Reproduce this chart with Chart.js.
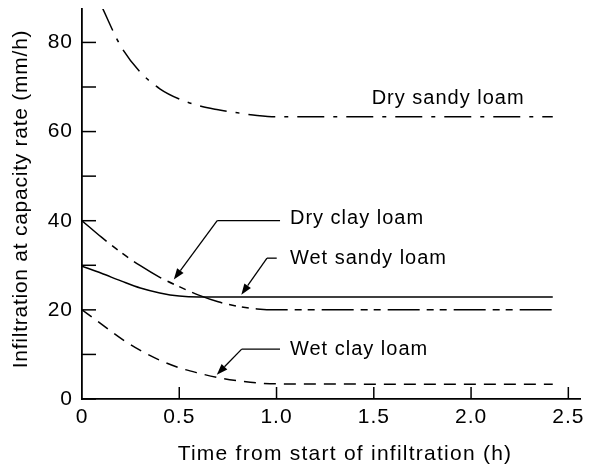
<!DOCTYPE html>
<html>
<head>
<meta charset="UTF-8">
<title>Infiltration capacity</title>
<script src="https://cdn.jsdelivr.net/npm/chart.js"></script>
<style>
  html, body { margin: 0; padding: 0; background: #fff; }
  #wrap { width: 589px; height: 464px; }
</style>
</head>
<body>
<div id="wrap"><canvas id="chart"></canvas></div>
<script>
// values (time in h, rate in mm/h)
const DRY_SANDY_TIME = [0.1, 0.2, 0.3, 0.4, 0.5, 0.6, 0.7, 0.8, 0.9, 1.0, 2.42];
const DRY_SANDY = [88.2, 79.1, 73.3, 69.6, 67.3, 65.8, 64.9, 64.2, 63.6, 63.3, 63.3];

const TIME = [0, 0.1, 0.2, 0.3, 0.4, 0.5, 0.6, 0.7, 0.8, 0.9, 1.0, 2.42];
const DRY_CLAY = [40, 36.3, 32.9, 29.9, 27.3, 25.2, 23.3, 21.8, 20.8, 20.2, 20.0, 20.0];
const WET_SANDY = [29.8, 28.2, 26.5, 24.9, 23.8, 23.1, 22.9, 22.9, 22.9, 22.9, 22.9, 22.9];
const WET_CLAY = [20, 16.8, 13.6, 10.9, 8.7, 7.0, 5.8, 4.8, 4.1, 3.6, 3.4, 3.3];

const X_TICKS = [0, 0.5, 1.0, 1.5, 2.0, 2.5];
const X_TICK_LABELS = ['0', '0.5', '1.0', '1.5', '2.0', '2.5'];
const Y_TICKS = [0, 10, 20, 30, 40, 50, 60, 70, 80];
const Y_TICK_LABELS = ['0', '', '20', '', '40', '', '60', '', '80'];

const X_TITLE = 'Time from start of infiltration (h)';
const Y_TITLE = 'Infiltration at capacity rate (mm/h)';

const FONT = "'Liberation Sans', Arial, Helvetica, sans-serif";

// callouts, placed in data units
const NOTES = [
  { text: 'Dry sandy loam', at: [1.489, 67.5] },
  { text: 'Dry clay loam', at: [1.069, 40.5], leader: [[1.018, 40.0], [0.695, 40.0], [0.472, 26.8]] },
  { text: 'Wet sandy loam', at: [1.069, 31.6], leader: [[1.001, 31.6], [0.951, 31.6], [0.819, 23.4]] },
  { text: 'Wet clay loam', at: [1.069, 11.2], leader: [[1.018, 11.2], [0.821, 11.2], [0.693, 5.45]] }
];

const pts = (xs, ys) => xs.map((t, i) => ({ x: t, y: ys[i] }));

function series(label, data, dash) {
  return {
    label,
    data,
    borderColor: '#000',
    borderWidth: 1.5,
    borderDash: dash,
    pointRadius: 0,
    fill: false,
    cubicInterpolationMode: 'monotone'
  };
}

function arrow(ctx, x0, y0, x1, y1) {
  const ang = Math.atan2(y1 - y0, x1 - x0);
  const len = 11, half = 4;
  const bx = x1 - len * Math.cos(ang), by = y1 - len * Math.sin(ang);
  ctx.beginPath();
  ctx.moveTo(x0, y0);
  ctx.lineTo(bx, by);
  ctx.stroke();
  ctx.beginPath();
  ctx.moveTo(x1, y1);
  ctx.lineTo(bx + half * Math.sin(ang), by - half * Math.cos(ang));
  ctx.lineTo(bx - half * Math.sin(ang), by + half * Math.cos(ang));
  ctx.closePath();
  ctx.fill();
}

const annotate = {
  id: 'annotate',
  beforeDraw(chart) {
    chart.ctx.letterSpacing = '1px';
  },
  afterDraw(chart) {
    const { ctx, chartArea: area, scales: { x, y } } = chart;
    ctx.save();
    ctx.strokeStyle = '#000';
    ctx.fillStyle = '#000';
    ctx.lineWidth = 1.5;

    // inward tick marks
    Y_TICKS.forEach(v => {
      const py = y.getPixelForValue(v);
      ctx.beginPath();
      ctx.moveTo(area.left, py);
      ctx.lineTo(area.left + 14, py);
      ctx.stroke();
    });
    X_TICKS.forEach(v => {
      if (v === 0) return;
      const px = x.getPixelForValue(v);
      ctx.beginPath();
      ctx.moveTo(px, area.bottom);
      ctx.lineTo(px, area.bottom - 12);
      ctx.stroke();
    });

    // callouts
    ctx.font = '20px ' + FONT;
    ctx.textBaseline = 'middle';
    ctx.textAlign = 'left';
    ctx.letterSpacing = '1px';
    ctx.lineWidth = 1.3;
    NOTES.forEach(n => {
      ctx.fillText(n.text, x.getPixelForValue(n.at[0]), y.getPixelForValue(n.at[1]));
      if (!n.leader) return;
      const p = n.leader.map(([t, v]) => [x.getPixelForValue(t), y.getPixelForValue(v)]);
      ctx.beginPath();
      ctx.moveTo(p[0][0], p[0][1]);
      ctx.lineTo(p[1][0], p[1][1]);
      ctx.stroke();
      arrow(ctx, p[1][0], p[1][1], p[2][0], p[2][1]);
    });

    // axis titles
    ctx.font = '21px ' + FONT;
    ctx.textAlign = 'center';
    ctx.letterSpacing = '1.25px';
    ctx.fillText(X_TITLE, 345, 454);
    ctx.save();
    ctx.translate(21, 199);
    ctx.rotate(-Math.PI / 2);
    ctx.letterSpacing = '0.75px';
    ctx.fillText(Y_TITLE, 0, 0);
    ctx.restore();

    ctx.restore();
  }
};

Chart.defaults.font.family = FONT;
Chart.defaults.color = '#000';

new Chart(document.getElementById('chart'), {
  type: 'line',
  data: {
    datasets: [
      series('Dry sandy loam', pts(DRY_SANDY_TIME, DRY_SANDY), [27, 9, 4, 9]),
      series('Dry clay loam', pts(TIME, DRY_CLAY), [32, 7, 7, 6, 7, 7]),
      series('Wet sandy loam', pts(TIME, WET_SANDY), []),
      series('Wet clay loam', pts(TIME, WET_CLAY), [12, 8])
    ]
  },
  options: {
    responsive: true,
    maintainAspectRatio: false,
    animation: false,
    layout: { padding: { top: 9, right: 9, left: 0, bottom: 0 } },
    plugins: {
      legend: { display: false },
      tooltip: { enabled: false }
    },
    scales: {
      x: {
        type: 'linear',
        min: 0,
        max: 2.56,
        afterBuildTicks: axis => { axis.ticks = X_TICKS.map(v => ({ value: v })); },
        afterFit: axis => {
          axis.height = 65;
          axis.paddingLeft = 0;
          axis.paddingRight = 0;
        },
        grid: { display: false, drawTicks: false },
        border: { display: true, color: '#000', width: 1.8 },
        ticks: {
          autoSkip: false,
          maxRotation: 0,
          padding: 6,
          font: { size: 21 },
          callback: (v, i) => X_TICK_LABELS[i]
        }
      },
      y: {
        type: 'linear',
        min: 0,
        max: 87.5,
        afterBuildTicks: axis => { axis.ticks = Y_TICKS.map(v => ({ value: v })); },
        afterFit: axis => {
          axis.width = 82;
          axis.paddingTop = 0;
          axis.paddingBottom = 0;
        },
        grid: { display: false, drawTicks: false },
        border: { display: true, color: '#000', width: 1.8 },
        ticks: {
          autoSkip: false,
          padding: 9,
          font: { size: 21 },
          callback: (v, i) => Y_TICK_LABELS[i]
        }
      }
    }
  },
  plugins: [annotate]
});
</script>
</body>
</html>
